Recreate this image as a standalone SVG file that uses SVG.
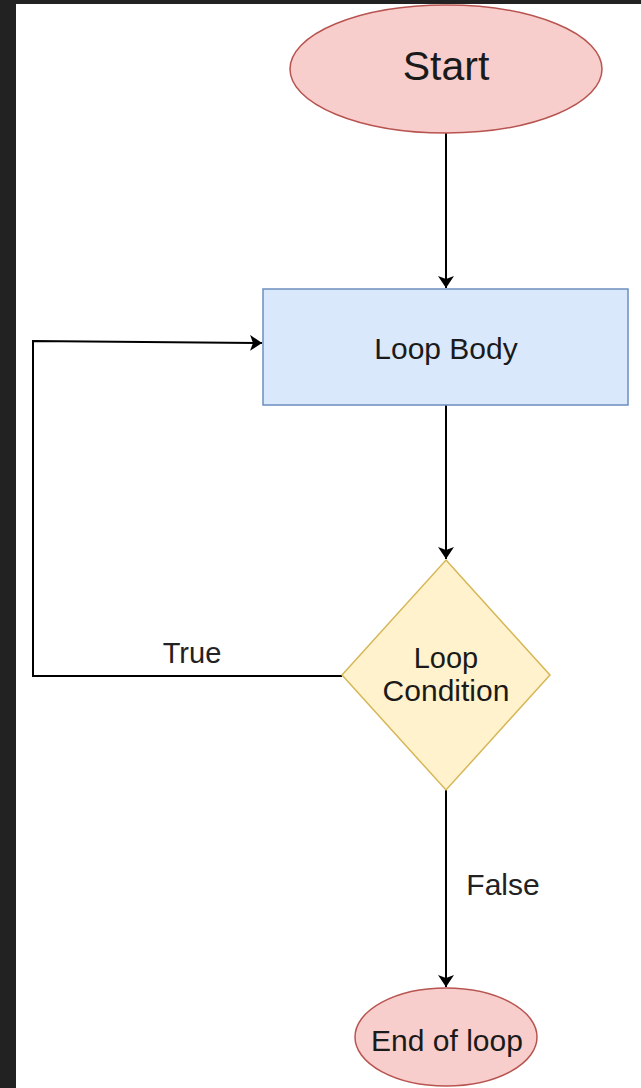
<svg xmlns="http://www.w3.org/2000/svg" width="641" height="1088" viewBox="0 0 641 1088">
  <defs>
    <marker id="arrow" viewBox="0 0 12 16" refX="12" refY="8" markerWidth="12" markerHeight="16" markerUnits="userSpaceOnUse" orient="auto">
      <path d="M0,0 L12,8 L0,16 L3,8 Z" fill="#000"/>
    </marker>
    <style>
      .lbl { font-family: "Liberation Sans", Arial, sans-serif; fill: #1a1a1a; text-anchor: middle; }
      .edge-lbl { fill: #222; }
      .edge { fill: none; stroke: #000; stroke-width: 2; }
      .term { fill: #f8cecc; stroke: #b85450; stroke-width: 1.5; }
    </style>
  </defs>

  <!-- frame -->
  <rect x="0" y="0" width="641" height="1088" fill="#222222"/>
  <rect x="16" y="4" width="625" height="1084" fill="#ffffff"/>

  <!-- connectors -->
  <g id="connectors">
    <path class="edge" d="M446,133 L446,288" stroke="#444" marker-end="url(#arrow)"/>
    <path class="edge" d="M446,405 L446,559" marker-end="url(#arrow)"/>
    <path class="edge" d="M342,676 L33,676 L33,341 L262,343" marker-end="url(#arrow)"/>
    <path class="edge" d="M446,790 L446,987" marker-end="url(#arrow)"/>
    <text class="lbl edge-lbl" x="192" y="663" font-size="29">True</text>
    <text class="lbl edge-lbl" x="503" y="895" font-size="30">False</text>
  </g>

  <g id="start">
    <ellipse class="term" cx="446" cy="69" rx="156" ry="64"/>
    <text class="lbl" x="446" y="80" font-size="41">Start</text>
  </g>

  <g id="loop-body">
    <rect x="263" y="289" width="365" height="116" fill="#dae8fc" stroke="#6c8ebf" stroke-width="1.5"/>
    <text class="lbl" x="446" y="359" font-size="30">Loop Body</text>
  </g>

  <g id="loop-condition">
    <polygon points="446,560 550,675 446,790 342,675" fill="#fff2cc" stroke="#d6b656" stroke-width="1.5"/>
    <text class="lbl" x="446" y="668" font-size="29">Loop</text>
    <text class="lbl" x="446" y="701" font-size="30">Condition</text>
  </g>

  <g id="end">
    <ellipse class="term" cx="446" cy="1037" rx="91" ry="49"/>
    <text class="lbl" x="447" y="1051" font-size="30">End of loop</text>
  </g>
</svg>
